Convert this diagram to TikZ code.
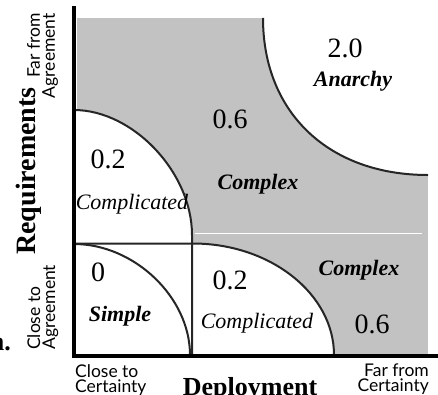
\documentclass[tikz,border=0pt]{standalone}
\usepackage{fontspec}
\setmainfont{Liberation Serif}
\newfontfamily\gillf{Lato}
\begin{document}
\begin{tikzpicture}[x=1pt,y=-1pt,
  num/.style={font=\fontsize{28}{30}\selectfont, inner sep=0pt},
  lab/.style={font=\fontsize{22}{24}\selectfont\itshape, inner sep=0pt},
  blab/.style={font=\fontsize{22}{24}\selectfont\bfseries\itshape, inner sep=0pt},
  small/.style={font=\gillf\fontsize{17.5}{15}\selectfont, inner sep=0pt},
  axtitle/.style={font=\fontsize{28}{30}\selectfont\bfseries, inner sep=0pt},
  bline/.style={line width=2pt, black!85},
  axisline/.style={line width=3.5pt}]
\useasboundingbox (0,0) rectangle (438,394);
% shaded field
\fill[black!24] (77,18) rectangle (428,355);
% white regions
\fill[white] (74,110) .. controls (133,110) and (192,172.5) .. (192,235) -- (192,355) -- (74,355) -- cycle;
\fill[white] (193,244) .. controls (270.5,244) and (334,294) .. (334,355) -- (193,355) -- cycle;
\fill[white] (263,17) .. controls (263,113) and (329,175) .. (428,175) -- (428,17) -- cycle;
\draw[white, line width=1pt] (195,233) -- (422,233);
% boundaries
\draw[bline] (74,110) .. controls (133,110) and (192,172.5) .. (192,235) -- (192,355);
\draw[bline] (74,243.5) -- (193,243.5) .. controls (270.5,243.5) and (334,294) .. (334,355);
\draw[bline] (74,244) .. controls (134,244) and (190,297) .. (190,355);
\draw[bline] (263,18) .. controls (263,113) and (329,175) .. (428,175);
% axes
\draw[axisline] (74,6) -- (74,357.5);
\draw[axisline] (72.5,356) -- (438,356);
% region labels
\node[num] (n20) at (345,48) {2.0};
\node[blab] (anarchy) at (353,81) {Anarchy};
\node[num] (n06a) at (230,119) {0.6};
\node[blab] (cx1) at (258,184) {Complex};
\node[num] (n02a) at (108,159) {0.2};
\node[lab] (cd1) at (132,204) {Complicated};
\node[num] (n0) at (98,272) {0};
\node[blab] (simple) at (120,316) {Simple};
\node[num] (n02b) at (230,280) {0.2};
\node[lab] (cd2) at (257,323) {Complicated};
\node[blab] (cx2) at (359,270) {Complex};
\node[num] (n06b) at (372,324) {0.6};
% axis labels
\node[axtitle, rotate=90] (req) at (29,171) {Requirements};
\node[axtitle, font=\fontsize{26}{28}\selectfont\bfseries, anchor=base] (dep) at (250,395) {Deployment};
\node[small, rotate=90, align=right, anchor=north east] (farag) at (27,13) {Far from\\Agreement};
\node[small, rotate=90, align=left, anchor=north west] (closeag) at (27,350) {Close to\\Agreement};
\node[small, align=left, anchor=north west] (closecert) at (75,364) {Close to\\Certainty};
\node[small, align=right, anchor=north east] (farcert) at (429,364) {Far from\\Certainty};
\node[font=\fontsize{26}{28}\selectfont\bfseries, anchor=base east, inner sep=0pt] (cut) at (11,350) {n.};
\end{tikzpicture}
\end{document}
